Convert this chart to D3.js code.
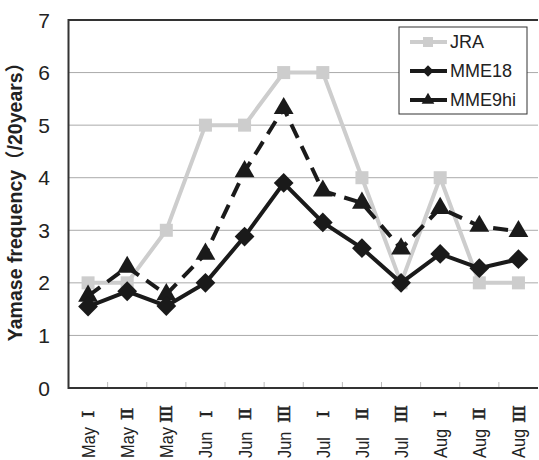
<!DOCTYPE html>
<html><head><meta charset="utf-8">
<script src="https://cdn.jsdelivr.net/npm/d3@7"></script>
<style>body{margin:0;background:#fff}svg{display:block}</style>
</head><body><svg id="c" width="539" height="460"></svg>
<script>
const months = ["May","May","May","Jun","Jun","Jun","Jul","Jul","Jul","Aug","Aug","Aug"];
const dekads = ["Ⅰ","Ⅱ","Ⅲ","Ⅰ","Ⅱ","Ⅲ","Ⅰ","Ⅱ","Ⅲ","Ⅰ","Ⅱ","Ⅲ"];
const categories = months.map((m,i)=>m+" "+dekads[i]);
const jra   = [2,2,3,5,5,6,6,4,2,4,2,2];
const mme18 = [1.55,1.84,1.56,2.0,2.88,3.9,3.15,2.66,2.0,2.55,2.28,2.45];
const mme9hi= [1.75,2.3,1.78,2.55,4.12,5.32,3.75,3.52,2.65,3.42,3.08,2.98];
const yTicks = [0,1,2,3,4,5,6,7];

const svg = d3.select("#c");
const L=68.5, R=538, T=20, B=388;
const x = d3.scaleBand().domain(categories).range([L,R]);
const y = d3.scaleLinear().domain([0,7]).range([B,T]);
const cx = d => x(d)+x.bandwidth()/2;

// gridlines
svg.append("g").selectAll("line").data(yTicks.filter(v=>v>0&&v<7)).join("line")
  .attr("x1",L).attr("x2",R).attr("y1",d=>y(d)).attr("y2",d=>y(d))
  .attr("stroke","#aaa").attr("stroke-width",1);

// x ticks (inside, between categories)
svg.append("g").selectAll("line").data(categories.slice(1)).join("line")
  .attr("x1",d=>x(d)).attr("x2",d=>x(d)).attr("y1",B).attr("y2",B-6)
  .attr("stroke","#bbb").attr("stroke-width",1);

// frame
svg.append("path").attr("d",`M${R},${T}H${L}V${B}H${R}`).attr("fill","none")
  .attr("stroke","#333").attr("stroke-width",2);

// y tick labels
svg.append("g").selectAll("text").data(yTicks).join("text")
  .attr("x",50).attr("y",d=>y(d)).attr("dy","0.36em").attr("text-anchor","end")
  .attr("font-family","Liberation Sans, Arial, sans-serif").attr("font-size",21).attr("fill","#222")
  .text(d=>d);

// y title
svg.append("text").attr("transform",`translate(22,197) rotate(-90)`)
  .attr("text-anchor","middle").attr("font-family","Liberation Sans, Arial, 'Noto Sans CJK JP', sans-serif")
  .attr("font-weight","bold").attr("font-size",19.5).attr("fill","#222")
  .text("Yamase frequency（/20years）");

// x labels: month + roman dekad numeral
const xg = svg.append("g").selectAll("g").data(categories).join("g");
xg.append("text")
  .attr("transform",d=>`translate(${cx(d)+7},458) rotate(-90) scale(0.91,1)`)
  .attr("text-anchor","start").attr("font-family","Liberation Sans, Arial, sans-serif")
  .attr("font-size",18).attr("fill","#222").text((d,i)=>months[i]);
xg.append("text")
  .attr("transform",d=>`translate(${cx(d)},414) rotate(-90) scale(1.1,1)`)
  .attr("text-anchor","middle").attr("dominant-baseline","central")
  .attr("font-family","DejaVu Serif, serif")
  .attr("font-size",17).attr("fill","#222").attr("stroke","#222").attr("stroke-width",0.4)
  .text((d,i)=>dekads[i]);

const line = d3.line().x((d,i)=>cx(categories[i])).y(d=>y(d));

// JRA
svg.append("path").datum(jra).attr("d",line).attr("fill","none").attr("stroke","#cdcdcd").attr("stroke-width",4);
svg.append("g").selectAll("rect").data(jra).join("rect")
  .attr("x",(d,i)=>cx(categories[i])-6.5).attr("y",d=>y(d)-6.5).attr("width",13).attr("height",13).attr("fill","#cdcdcd");

// MME9hi dashed
svg.append("path").datum(mme9hi).attr("d",line).attr("fill","none").attr("stroke","#1a1a1a")
  .attr("stroke-width",4).attr("stroke-dasharray","15,9");
const tri = d3.symbol().type(d3.symbolTriangle).size(170);
svg.append("g").selectAll("path").data(mme9hi).join("path")
  .attr("transform",(d,i)=>`translate(${cx(categories[i])},${y(d)})`).attr("d",tri).attr("fill","#1a1a1a");

// MME18
svg.append("path").datum(mme18).attr("d",line).attr("fill","none").attr("stroke","#1a1a1a").attr("stroke-width",4);
svg.append("g").selectAll("path").data(mme18).join("path")
  .attr("transform",(d,i)=>`translate(${cx(categories[i])},${y(d)}) rotate(45)`)
  .attr("d","M-7,-7H7V7H-7Z").attr("fill","#1a1a1a");

// legend
const lg = svg.append("g");
lg.append("rect").attr("x",399).attr("y",27).attr("width",128).attr("height",87)
  .attr("fill","#fff").attr("stroke","#333").attr("stroke-width",1);
const items = [
  {name:"JRA", color:"#cdcdcd", type:"sq"},
  {name:"MME18", color:"#1a1a1a", type:"di"},
  {name:"MME9hi", color:"#1a1a1a", type:"tr"}];
items.forEach((it,i)=>{
  const yy = 42+i*29;
  lg.append("line").attr("x1",410).attr("x2",447).attr("y1",yy).attr("y2",yy).attr("stroke",it.color).attr("stroke-width",4);
  if(it.type==="sq") lg.append("rect").attr("x",423).attr("y",yy-5).attr("width",10).attr("height",10).attr("fill",it.color);
  if(it.type==="di") lg.append("path").attr("transform",`translate(428,${yy}) rotate(45)`).attr("d","M-4,-4H4V4H-4Z").attr("fill",it.color);
  if(it.type==="tr") lg.append("path").attr("transform",`translate(428,${yy})`).attr("d",d3.symbol().type(d3.symbolTriangle).size(70)).attr("fill",it.color);
  lg.append("text").attr("x",450).attr("y",yy).attr("dy","0.36em").attr("font-family","Liberation Sans, Arial, sans-serif")
    .attr("font-size",18).attr("fill","#222").text(it.name);
});
</script></body></html>
